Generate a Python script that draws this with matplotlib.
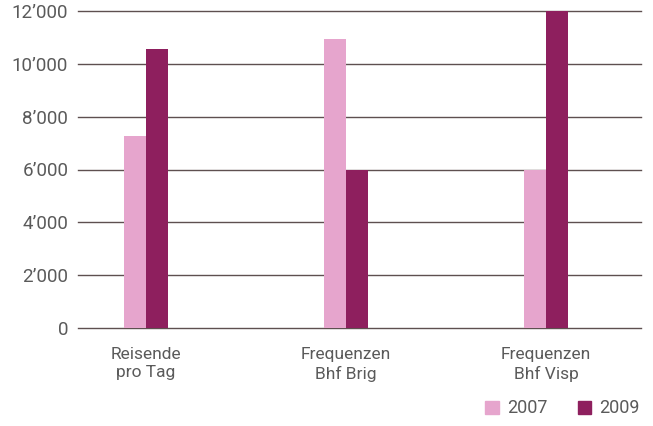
import matplotlib.pyplot as plt
import numpy as np
from matplotlib.patches import Patch

categories = ['Reisende\npro Tag', 'Frequenzen\nBhf Brig', 'Frequenzen\nBhf Visp']
values_2007 = [7250, 10950, 6000]
values_2009 = [10550, 6000, 12000]
years = ['2007', '2009']
yticks = [0, 2000, 4000, 6000, 8000, 10000, 12000]

c2007 = '#e6a5cd'
c2009 = '#8e1f5e'
grid_c = '#5e5050'
text_c = '#5a5a5a'

plt.rcParams['font.family'] = ['Roboto', 'DejaVu Sans']

fig = plt.figure(figsize=(6.53, 4.26), dpi=100)
ax = fig.add_axes([78 / 653, 1 - 328 / 426, (641 - 78) / 653, (328 - 11) / 426])

x = np.arange(len(categories))
w = 0.11
ax.bar(x - w / 2, values_2007, w, color=c2007, zorder=3)
ax.bar(x + w / 2, values_2009, w, color=c2009, zorder=3)

ax.set_xlim(-0.34, 2.475)
ax.set_ylim(0, 12000)
ax.set_yticks(yticks)
ax.set_yticklabels([f'{v:,}'.replace(',', '\u2019') for v in yticks],
                   fontsize=13.5, color=text_c)
ax.yaxis.grid(True, color=grid_c, linewidth=1.0, zorder=1)
for gl in ax.get_ygridlines():
    gl.set_clip_on(False)
ax.tick_params(axis='y', length=0, pad=7)
ax.set_xticks(x)
ax.set_xticklabels(categories, fontsize=12.5, color=text_c, linespacing=1.25)
ax.tick_params(axis='x', length=0, pad=14)
for s in ax.spines.values():
    s.set_visible(False)

handles = [Patch(color=c2007), Patch(color=c2009)]
leg = fig.legend(handles, years, loc='lower right', bbox_to_anchor=(1.005, -0.018),
                 ncol=2, frameon=False, fontsize=13, handlelength=0.75,
                 handleheight=0.75, handletextpad=0.45, columnspacing=1.7)
for t in leg.get_texts():
    t.set_color(text_c)

fig.savefig('out.png', dpi=100)
